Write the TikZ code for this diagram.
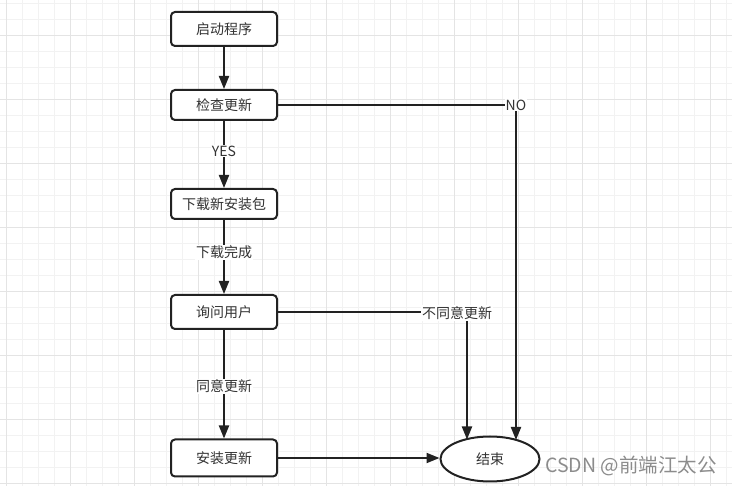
\documentclass[tikz,border=0pt]{standalone}
\usepackage{fontspec}
\setmainfont{Noto Sans CJK SC}
\usetikzlibrary{arrows.meta,shapes.geometric}
\definecolor{ink}{HTML}{222222}
\definecolor{txt}{HTML}{333333}
\definecolor{gridminor}{HTML}{F2F2F2}
\definecolor{gridmajor}{HTML}{E4E4E4}
\tikzset{
  stepbox/.style={draw=ink, line width=2pt, rounded corners=4pt, fill=white,
    minimum width=106pt, text=txt, font=\fontsize{14pt}{16pt}\selectfont, inner sep=0pt},
  endnode/.style={draw=ink, line width=2pt, ellipse, fill=white,
    minimum width=99pt, minimum height=45pt, text=txt, font=\fontsize{14pt}{16pt}\selectfont, inner sep=0pt},
  conn/.style={draw=ink, line width=2pt},
  arr/.style={conn, -{Triangle[length=13pt,width=10pt]}},
  lbl/.style={fill=white, text=txt, font=\fontsize{14pt}{16pt}\selectfont, inner sep=1pt}
}
\begin{document}
\begin{tikzpicture}[x=1pt,y=-1pt]
\useasboundingbox (0,0) rectangle (732,486);
\fill[white] (0,0) rectangle (732,486);
% grid
\foreach \gx in {6,22,...,730} {\draw[gridminor, line width=1pt] (\gx,0) -- (\gx,486);}
\foreach \gy in {4,20,...,486} {\draw[gridminor, line width=1pt] (0,\gy) -- (732,\gy);}
\foreach \gx in {6,70,...,730} {\draw[gridmajor, line width=1pt] (\gx,0) -- (\gx,486);}
\foreach \gy in {36,100,...,486} {\draw[gridmajor, line width=1pt] (0,\gy) -- (732,\gy);}

% nodes
\node[stepbox, minimum height=34pt] (start) at (224,29) {启动程序};
\node[stepbox, minimum height=30pt] (check) at (224,105) {检查更新};
\node[stepbox, minimum height=30pt] (dl) at (224,204) {下载新安装包};
\node[stepbox, minimum height=34pt] (ask) at (224,312) {询问用户};
\node[stepbox, minimum height=37pt] (inst) at (224,458) {安装更新};
\node[endnode] (end) at (490,459) {结束};

\coordinate (nocorner) at (516,105);
\coordinate (noend) at (516,440);
\coordinate (nacorner) at (467,312);
\coordinate (naend) at (467,439.5);

% connectors
\draw[arr] (start) -- (check);
\draw[arr] (check) -- node[lbl, pos=0.45] {YES} (dl);
\draw[arr] (dl) -- node[lbl, pos=0.44] {下载完成} (ask);
\draw[arr] (ask) -- node[lbl, pos=0.52] {同意更新} (inst);
\draw[arr] (inst) -- (inst -| end.west);
\draw[conn] (check.east) -- (nocorner);
\draw[arr] (nocorner) -- (noend);
\node[lbl] (nolbl) at (nocorner) {NO};
\draw[conn] (ask.east) -- (nacorner);
\draw[arr] (nacorner) -- (naend);
\node[lbl] (nalbl) at (457,313) {不同意更新};

% watermark
\node[text=black!45, font=\fontsize{19.5pt}{21pt}\selectfont, anchor=west, inner sep=0pt] (wm) at (545,466) {CSDN @前端江太公};
\end{tikzpicture}
\end{document}
